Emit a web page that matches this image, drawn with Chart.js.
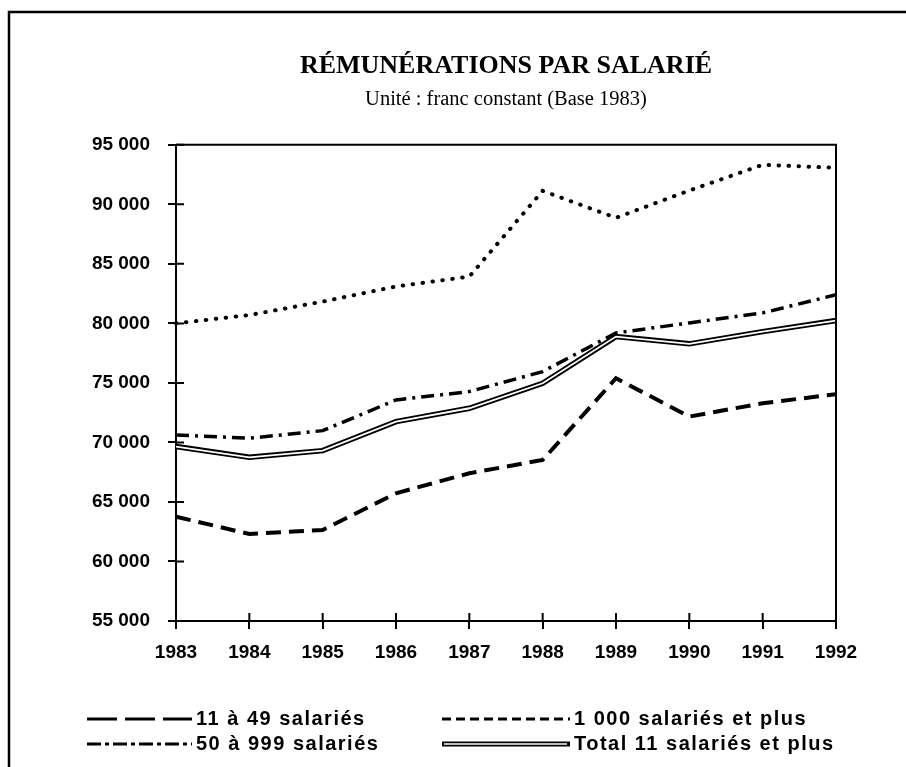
<!DOCTYPE html>
<html><head><meta charset="utf-8">
<script src="https://cdn.jsdelivr.net/npm/chart.js@4"></script>
<style>html,body{margin:0;padding:0;background:#fff}#wrap{width:906px;height:767px;position:relative}</style>
</head><body><div id="wrap"><canvas id="c" width="906" height="767"></canvas></div>
<script>
const years = ['1983','1984','1985','1986','1987','1988','1989','1990','1991','1992'];
const sal11to49   = [63760, 62310, 62650, 65730, 67410, 68530, 75390, 72170, 73290, 74050];
const sal1000plus = [80000, 80700, 81830, 83100, 83930, 91130, 88870, 91160, 93320, 93070];
const sal50to999  = [70630, 70350, 70990, 73570, 74270, 75950, 79200, 80040, 80880, 82400];
const total11plus = [69650, 68750, 69310, 71750, 72870, 74970, 78890, 78280, 79310, 80240];
const seriesLabels = ['11 à 49 salariés', '1 000 salariés et plus', '50 à 999 salariés', 'Total 11 salariés et plus'];
const yMin = 55000, yMax = 95000, yStep = 5000;
const titleText = 'RÉMUNÉRATIONS PAR SALARIÉ';
const subtitleText = 'Unité : franc constant (Base 1983)';

const SANS = "'Liberation Sans', Arial, Helvetica, sans-serif";
const SERIF = "'Liberation Serif', 'Times New Roman', serif";

function fmt(v){ return String(v).replace(/\B(?=(\d{3})+(?!\d))/g, ' '); }

const framePlugin = {
  id: 'frame',
  beforeDraw(chart){
    const ctx = chart.ctx;
    ctx.save();
    ctx.fillStyle = '#fff';
    ctx.fillRect(0,0,chart.width,chart.height);
    ctx.strokeStyle = '#000';
    ctx.lineWidth = 2.5;
    ctx.beginPath();
    ctx.moveTo(9, chart.height); ctx.lineTo(9, 12); ctx.lineTo(chart.width, 12);
    ctx.stroke();
    ctx.restore();
  },
  afterDraw(chart){
    const ctx = chart.ctx, a = chart.chartArea;
    ctx.save();
    ctx.strokeStyle = '#000';
    ctx.lineWidth = 2;
    ctx.beginPath();
    ctx.moveTo(a.left, a.top); ctx.lineTo(a.right, a.top); ctx.lineTo(a.right, a.bottom);
    ctx.stroke();
    const ys = chart.scales.y, xs = chart.scales.x;
    ctx.beginPath();
    ys.ticks.forEach((t,i)=>{ const y = ys.getPixelForTick(i); ctx.moveTo(a.left, y); ctx.lineTo(a.left+8, y); });
    xs.ticks.forEach((t,i)=>{ const x = xs.getPixelForTick(i); ctx.moveTo(x, a.bottom); ctx.lineTo(x, a.bottom-8); });
    ctx.stroke();
    ctx.restore();
  }
};

const legendLayout = [
  {label: seriesLabels[0], col: 0, row: 0, dash: [30, 8]},
  {label: seriesLabels[1], col: 1, row: 0, dash: [9, 5]},
  {label: seriesLabels[2], col: 0, row: 1, dash: [14, 4, 4, 4]},
  {label: seriesLabels[3], col: 1, row: 1, dash: null}
];
const legendCols = [{x0: 87, x1: 192, tx: 196}, {x0: 442, x1: 570, tx: 574}];
const legendRows = [719, 744];

const legendPlugin = {
  id: 'customLegend',
  afterDraw(chart){
    const ctx = chart.ctx;
    ctx.save();
    legendLayout.forEach(it=>{
      const c = legendCols[it.col], y = legendRows[it.row];
      ctx.strokeStyle = '#000';
      if (it.dash){
        ctx.setLineDash(it.dash);
        ctx.lineWidth = 3;
        ctx.lineCap = 'butt';
        ctx.beginPath(); ctx.moveTo(c.x0, y); ctx.lineTo(c.x1, y); ctx.stroke();
        ctx.setLineDash([]);
      } else {
        ctx.lineWidth = 5;
        ctx.beginPath(); ctx.moveTo(c.x0, y); ctx.lineTo(c.x1, y); ctx.stroke();
        ctx.strokeStyle = '#fff'; ctx.lineWidth = 1.6;
        ctx.beginPath(); ctx.moveTo(c.x0+2, y); ctx.lineTo(c.x1-3, y); ctx.stroke();
      }
      ctx.fillStyle = '#000';
      ctx.font = 'bold 20px ' + SANS;
      try { ctx.letterSpacing = '1.5px'; } catch(e) {}
      ctx.textBaseline = 'middle';
      ctx.textAlign = 'left';
      ctx.fillText(it.label, c.tx, y);
      try { ctx.letterSpacing = '0px'; } catch(e) {}
    });
    ctx.restore();
  }
};

const common = {pointRadius: 0, pointHoverRadius: 0, fill: false, tension: 0, borderColor: '#000', backgroundColor: '#000'};

new Chart(document.getElementById('c'), {
  type: 'line',
  data: {
    labels: years,
    datasets: [
      Object.assign({}, common, {label: seriesLabels[0], data: sal11to49, borderWidth: 4, borderDash: [15, 8], order: 3}),
      Object.assign({}, common, {label: seriesLabels[1], data: sal1000plus, borderWidth: 4, borderDash: [0.5, 9.5], borderCapStyle: 'round', order: 4}),
      Object.assign({}, common, {label: seriesLabels[2], data: sal50to999, borderWidth: 3.5, borderDash: [13, 6, 3, 6], order: 2}),
      Object.assign({}, common, {label: seriesLabels[3], data: total11plus, borderWidth: 5.5, order: 1}),
      Object.assign({}, common, {label: seriesLabels[3] + ' (inner)', data: total11plus, borderWidth: 1.8, borderColor: '#fff', order: 0})
    ]
  },
  options: {
    responsive: false,
    animation: false,
    devicePixelRatio: 1,
    layout: {padding: {left: 10, right: 70, top: 12, bottom: 100}},
    plugins: {
      legend: {display: false},
      tooltip: {enabled: false},
      title: {display: true, text: titleText, color: '#000', fullSize: false,
        font: {family: SERIF, size: 26, weight: 'bold', lineHeight: 1.2},
        padding: {top: 39, bottom: 5}},
      subtitle: {display: true, text: subtitleText, color: '#000', fullSize: false,
        font: {family: SERIF, size: 20.5, weight: 'normal', lineHeight: 1.2},
        padding: {top: 0, bottom: 33}}
    },
    scales: {
      x: {
        offset: false,
        grid: {display: true, drawOnChartArea: false, drawTicks: true, tickLength: 8, color: '#000', lineWidth: 2},
        border: {display: true, color: '#000', width: 2},
        ticks: {color: '#000', font: {family: SANS, size: 19, weight: 'bold'}, padding: 12, maxRotation: 0, autoSkip: false},
        afterFit(s){ s.height = 46; }
      },
      y: {
        min: yMin, max: yMax,
        grid: {display: true, drawOnChartArea: false, drawTicks: true, tickLength: 8, color: '#000', lineWidth: 2},
        border: {display: true, color: '#000', width: 2},
        ticks: {stepSize: yStep, color: '#000', font: {family: SANS, size: 19, weight: 'bold'}, padding: 18,
          callback: (v)=>fmt(v)},
        afterFit(s){ s.width = 166; }
      }
    }
  },
  plugins: [framePlugin, legendPlugin]
});
</script></body></html>
